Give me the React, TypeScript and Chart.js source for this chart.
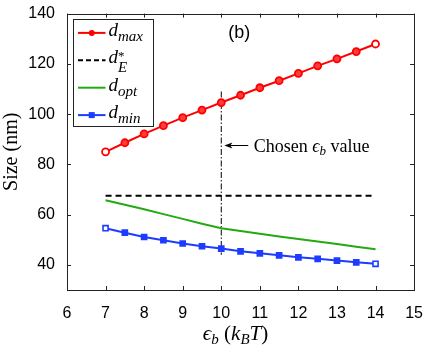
import { useEffect, useRef } from "react";
import { Chart, registerables } from "chart.js";
Chart.register(...registerables);

// ---- data ----
const epsB = [7, 7.5, 8, 8.5, 9, 9.5, 10, 10.5, 11, 11.5, 12, 12.5, 13, 13.5, 14];
const dMax = [85, 88.6, 92.1, 95.4, 98.6, 101.6, 104.6, 107.5, 110.5, 113.3, 116.2, 119.2, 122.0, 124.9, 127.9];
const dOpt = [65.7, 63.9, 62.1, 60.2, 58.3, 56.4, 54.6, 53.5, 52.4, 51.3, 50.3, 49.3, 48.3, 47.2, 46.2];
const dMin = [54.6, 52.8, 51.1, 49.8, 48.5, 47.4, 46.5, 45.4, 44.6, 43.8, 43.0, 42.4, 41.7, 41.0, 40.4];
const dEx = [7, 14];
const dEy = [67.5, 67.5];
const chosenX = [10, 10];
const chosenY = [109, 44];
const xTicks = [6, 7, 8, 9, 10, 11, 12, 13, 14, 15];
const yTicks = [40, 60, 80, 100, 120, 140];

const RED = "rgb(255,0,0)";
const BLUE = "rgb(30,60,255)";
const GREEN = "rgb(34,170,17)";
const SERIF = "'Liberation Serif', 'DejaVu Serif', serif";
const SANS = "'Liberation Sans', Arial, sans-serif";

type Part = { t: string; font: string; dy?: number; noAdvance?: boolean };

function drawRich(ctx: CanvasRenderingContext2D, parts: Part[], x: number, y: number, align: "left" | "center") {
  const widths = parts.map((p) => {
    ctx.font = p.font;
    return p.noAdvance ? 0 : ctx.measureText(p.t).width;
  });
  const total = widths.reduce((a, b) => a + b, 0);
  let cx = align === "center" ? x - total / 2 : x;
  ctx.textAlign = "left";
  ctx.textBaseline = "alphabetic";
  parts.forEach((p, i) => {
    ctx.font = p.font;
    ctx.fillText(p.t, cx, y + (p.dy || 0));
    cx += widths[i];
  });
}

const pts = (xs: number[], ys: number[]) => xs.map((x, i) => ({ x, y: ys[i] }));
const endHollow = (n: number, color: string) =>
  Array.from({ length: n }, (_, i) => (i === 0 || i === n - 1 ? "#fff" : color));

const decorPlugin = {
  id: "decor",
  afterDraw(chart: any) {
    const ctx: CanvasRenderingContext2D = chart.ctx;
    const ca = chart.chartArea;
    const xs = chart.scales.x;
    const ys = chart.scales.y;
    ctx.save();
    // frame
    ctx.strokeStyle = "#222";
    ctx.lineWidth = 1;
    ctx.strokeRect(Math.round(ca.left) + 0.5, Math.round(ca.top) + 0.5, Math.round(ca.right - ca.left), Math.round(ca.bottom - ca.top));
    // inward ticks
    ctx.beginPath();
    xTicks.forEach((v) => {
      const px = Math.round(xs.getPixelForValue(v)) + 0.5;
      ctx.moveTo(px, ca.bottom);
      ctx.lineTo(px, ca.bottom - 4);
      ctx.moveTo(px, ca.top);
      ctx.lineTo(px, ca.top + 4);
    });
    yTicks.forEach((v) => {
      const py = Math.round(ys.getPixelForValue(v)) + 0.5;
      ctx.moveTo(ca.left, py);
      ctx.lineTo(ca.left + 4, py);
      ctx.moveTo(ca.right, py);
      ctx.lineTo(ca.right - 4, py);
    });
    ctx.stroke();

    ctx.fillStyle = "#000";
    // annotation arrow
    const ay = ys.getPixelForValue(87.5);
    const tipX = xs.getPixelForValue(10.08);
    const tailX = xs.getPixelForValue(10.7);
    ctx.strokeStyle = "#000";
    ctx.lineWidth = 1;
    ctx.beginPath();
    ctx.moveTo(tipX + 4, ay);
    ctx.lineTo(tailX, ay);
    ctx.stroke();
    ctx.beginPath();
    ctx.moveTo(tipX, ay);
    ctx.lineTo(tipX + 8, ay - 3);
    ctx.lineTo(tipX + 6, ay);
    ctx.lineTo(tipX + 8, ay + 3);
    ctx.closePath();
    ctx.fill();
    drawRich(
      ctx,
      [
        { t: "Chosen ", font: `18px ${SERIF}` },
        { t: "ϵ", font: `italic 18px ${SERIF}` },
        { t: "b", font: `italic 13px ${SERIF}`, dy: 3 },
        { t: " value", font: `18px ${SERIF}` },
      ],
      xs.getPixelForValue(10.84),
      ay + 6,
      "left"
    );

    // (b) label
    ctx.font = `18px ${SANS}`;
    ctx.textAlign = "left";
    ctx.textBaseline = "middle";
    ctx.fillText("(b)", xs.getPixelForValue(10.18), ys.getPixelForValue(132.2));

    // legend
    const bx = ca.left + 5.5;
    const by = ca.top + 5;
    const bw = 80;
    const bh = 107;
    ctx.fillStyle = "#fff";
    ctx.fillRect(bx, by, bw, bh);
    ctx.strokeStyle = "#222";
    ctx.lineWidth = 1;
    ctx.strokeRect(Math.round(bx) + 0.5, Math.round(by) + 0.5, bw, bh);
    const items = [
      { color: RED, dash: [] as number[], marker: "circle", sub: "max", sup: false },
      { color: "#000", dash: [5, 3], marker: "", sub: "E", sup: true },
      { color: GREEN, dash: [] as number[], marker: "", sub: "opt", sup: false },
      { color: BLUE, dash: [] as number[], marker: "rect", sub: "min", sup: false },
    ];
    items.forEach((it, i) => {
      const ry = by + 14.3 + i * 27.4;
      const x0 = bx + 5.5;
      const x1 = bx + 33;
      ctx.strokeStyle = it.color;
      ctx.lineWidth = 2;
      ctx.setLineDash(it.dash);
      ctx.beginPath();
      ctx.moveTo(x0, ry);
      ctx.lineTo(x1, ry);
      ctx.stroke();
      ctx.setLineDash([]);
      const mx = (x0 + x1) / 2;
      if (it.marker === "circle") {
        ctx.fillStyle = it.color;
        ctx.beginPath();
        ctx.arc(mx, ry, 3, 0, Math.PI * 2);
        ctx.fill();
      } else if (it.marker === "rect") {
        ctx.fillStyle = it.color;
        ctx.fillRect(mx - 3, ry - 3, 6, 6);
      }
      ctx.fillStyle = "#000";
      const parts: Part[] = [{ t: "d", font: `italic 19px ${SERIF}` }];
      if (it.sup) parts.push({ t: "*", font: `13px ${SERIF}`, dy: -3, noAdvance: true });
      parts.push({ t: it.sub, font: `italic 15px ${SERIF}`, dy: it.sup ? 9 : 5 });
      drawRich(ctx, parts, bx + 36, ry + 3, "left");
    });

    // axis titles
    ctx.fillStyle = "#000";
    drawRich(
      ctx,
      [
        { t: "ϵ", font: `italic 21px ${SERIF}` },
        { t: "b", font: `italic 15px ${SERIF}`, dy: 4 },
        { t: " (", font: `21px ${SERIF}` },
        { t: "k", font: `italic 21px ${SERIF}` },
        { t: "B", font: `italic 15px ${SERIF}`, dy: 4 },
        { t: "T", font: `italic 21px ${SERIF}` },
        { t: ")", font: `21px ${SERIF}` },
      ],
      (ca.left + ca.right) / 2 - 5,
      340,
      "center"
    );
    ctx.save();
    ctx.translate(17, (ca.top + ca.bottom) / 2);
    ctx.rotate(-Math.PI / 2);
    drawRich(ctx, [{ t: "Size (nm)", font: `20px ${SERIF}` }], 0, 0, "center");
    ctx.restore();
    ctx.restore();
  },
};

export default function App() {
  const ref = useRef<HTMLCanvasElement | null>(null);
  useEffect(() => {
    if (!ref.current) return;
    const chart = new Chart(ref.current, {
      type: "scatter",
      data: {
        datasets: [
          {
            label: "dmax",
            data: pts(epsB, dMax),
            showLine: true,
            borderColor: RED,
            borderWidth: 2,
            pointStyle: "circle",
            pointRadius: 3.5,
            pointBorderWidth: 1.8,
            pointBorderColor: RED,
            pointBackgroundColor: endHollow(epsB.length, "rgba(255,60,60,1)"),
          },
          {
            label: "dE",
            data: pts(dEx, dEy),
            showLine: true,
            borderColor: "#000",
            borderWidth: 2,
            borderDash: [6, 4],
            pointRadius: 0,
          },
          {
            label: "dopt",
            data: pts(epsB, dOpt),
            showLine: true,
            borderColor: GREEN,
            borderWidth: 2,
            pointRadius: 0,
          },
          {
            label: "dmin",
            data: pts(epsB, dMin),
            showLine: true,
            borderColor: BLUE,
            borderWidth: 2,
            pointStyle: "rect",
            pointRadius: 3.6,
            pointBorderWidth: 1.6,
            pointBorderColor: BLUE,
            pointBackgroundColor: endHollow(epsB.length, BLUE),
          },
          {
            label: "chosen",
            data: pts(chosenX, chosenY),
            showLine: true,
            borderColor: "#000",
            borderWidth: 1,
            borderDash: [6, 2, 1.5, 2],
            pointRadius: 0,
          },
        ],
      },
      options: {
        animation: false,
        responsive: false,
        devicePixelRatio: 1,
        events: [],
        layout: { padding: { left: 0, top: 10, right: 10, bottom: 0 } },
        plugins: { legend: { display: false }, tooltip: { enabled: false } },
        scales: {
          x: {
            type: "linear",
            min: 6,
            max: 15,
            grid: { display: false },
            border: { display: false },
            afterBuildTicks: (s: any) => {
              s.ticks = xTicks.map((v) => ({ value: v }));
            },
            afterFit: (s: any) => {
              s.height = 55;
            },
            ticks: { color: "#000", font: { family: SANS, size: 16 }, padding: 6, maxRotation: 0 },
          },
          y: {
            type: "linear",
            min: 30,
            max: 140,
            grid: { display: false },
            border: { display: false },
            afterBuildTicks: (s: any) => {
              s.ticks = yTicks.map((v) => ({ value: v }));
            },
            afterFit: (s: any) => {
              s.width = 67;
            },
            ticks: { color: "#000", font: { family: SANS, size: 16 }, padding: 4 },
          },
        },
      },
      plugins: [decorPlugin],
    } as any);
    return () => chart.destroy();
  }, []);
  return (
    <div style={{ position: "absolute", left: 0, top: 0, width: 429, height: 345, background: "#fff" }}>
      <canvas ref={ref} width={429} height={345} style={{ width: 429, height: 345, display: "block" }} />
    </div>
  );
}
